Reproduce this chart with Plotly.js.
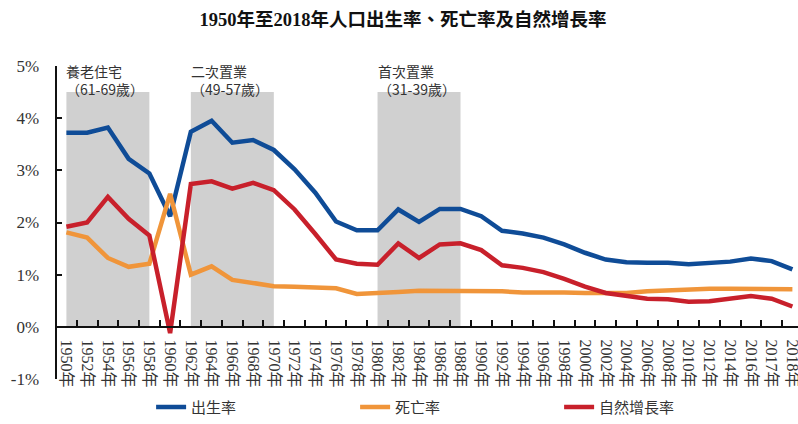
<!DOCTYPE html>
<html>
<head>
<meta charset="utf-8">
<script src="https://cdn.plot.ly/plotly-3.0.1.min.js"></script>
<style>html,body{margin:0;padding:0;background:#fff;}#chart{width:798px;height:424px;}</style>
</head>
<body>
<div id="chart"></div>
<script>
const categories = ['1950年','1952年','1954年','1956年','1958年','1960年','1962年','1964年','1966年','1968年',
  '1970年','1972年','1974年','1976年','1978年','1980年','1982年','1984年','1986年','1988年',
  '1990年','1992年','1994年','1996年','1998年','2000年','2002年','2004年','2006年','2008年',
  '2010年','2012年','2014年','2016年','2017年','2018年'];

const birthRate = [3.72,3.72,3.82,3.22,2.94,2.12,3.74,3.95,3.53,3.58,
  3.39,3.02,2.57,2.02,1.85,1.85,2.25,2.01,2.26,2.26,
  2.12,1.84,1.79,1.71,1.58,1.42,1.29,1.24,1.23,1.23,
  1.20,1.22,1.25,1.31,1.26,1.10];

const deathRate = [1.81,1.71,1.32,1.15,1.21,2.55,1.00,1.16,0.90,0.83,
  0.78,0.77,0.75,0.74,0.63,0.64,0.67,0.69,0.69,0.67,
  0.67,0.68,0.66,0.67,0.66,0.65,0.65,0.65,0.68,0.70,
  0.72,0.73,0.73,0.72,0.72,0.72];

const naturalIncrease = [1.92,2.00,2.49,2.07,1.75,-0.12,2.74,2.79,2.65,2.76,
  2.62,2.25,1.78,1.29,1.21,1.19,1.60,1.32,1.58,1.60,
  1.47,1.18,1.13,1.05,0.92,0.77,0.65,0.59,0.54,0.53,
  0.48,0.49,0.53,0.59,0.54,0.39];

const seriesNames = ['出生率','死亡率','自然增長率'];
const yTickVals = [-1,0,1,2,3,4,5];
const yTickText = ['-1%','0%','1%','2%','3%','4%','5%'];

const periodStart = ['1950年','1962年','1980年'];
const periodEnd = ['1958年','1970年','1988年'];
const periodTop = 4.5;
const periodLabels = ['養老住宅<br>（61-69歲）','二次置業<br>（49-57歲）','首次置業<br>（31-39歲）'];

const colors = ['#0f4c97','#f0953a','#c8202b'];
const serif = 'Liberation Serif, Noto Sans CJK TC, serif';
const cjk = 'Noto Sans CJK TC, Noto Sans, sans-serif';

const traces = [birthRate, deathRate, naturalIncrease].map((vals, k) => ({
  type: 'scatter', mode: 'lines', x: categories, y: vals, name: seriesNames[k],
  line: {color: colors[k], width: 4.5}, hoverinfo: 'skip'
}));

const shapes = periodStart.map((s, k) => ({
  type: 'rect', xref: 'x', yref: 'y', layer: 'below',
  x0: categories.indexOf(s), x1: categories.indexOf(periodEnd[k]),
  y0: 0, y1: periodTop, fillcolor: '#d0d0d0', line: {width: 0}
}));

const annotations = periodStart.map((s, k) => ({
  xref: 'x', yref: 'y', x: categories.indexOf(s), y: periodTop,
  xanchor: 'left', yanchor: 'bottom', yshift: -9, xshift: -2,
  text: periodLabels[k], showarrow: false, align: 'left',
  font: {family: cjk, size: 14, color: '#333'}
}));

const layout = {
  width: 798, height: 424,
  margin: {l: 57, r: 0, t: 66, b: 45},
  paper_bgcolor: '#fff', plot_bgcolor: '#fff',
  title: {text: '<b>1950年至2018年人口出生率、死亡率及自然增長率</b>', x: 0.505, y: 0.955, yanchor: 'middle',
    font: {family: serif, size: 18.5, color: '#111'}},
  showlegend: true,
  legend: {orientation: 'h', x: 0.127, xanchor: 'left', y: -0.09, yanchor: 'middle',
    entrywidth: 159, entrywidthmode: 'pixels',
    font: {family: cjk, size: 15, color: '#333'}},
  xaxis: {type: 'category', range: [-0.453, 35.27], anchor: 'free', position: 1/6,
    showline: true, linecolor: '#111', linewidth: 2.5, showgrid: false, zeroline: false,
    ticks: 'inside', tickson: 'boundaries', ticklen: 6, tickwidth: 2, tickcolor: '#111',
    tickangle: 90, ticklabelstandoff: 8, tickfont: {family: serif, size: 16, color: '#333'}, fixedrange: true},
  yaxis: {range: [-1, 5], tickmode: 'array', tickvals: yTickVals, ticktext: yTickText, showline: true, linecolor: '#111',
    linewidth: 2.5, showgrid: false, zeroline: false, ticks: 'inside', ticklen: 5, tickwidth: 2,
    tickcolor: '#111', ticklabelstandoff: 12, tickfont: {family: serif, size: 17, color: '#333'}, fixedrange: true},
  shapes: shapes,
  annotations: annotations
};

Plotly.newPlot('chart', traces, layout, {displayModeBar: false, staticPlot: true});
</script>
</body>
</html>
